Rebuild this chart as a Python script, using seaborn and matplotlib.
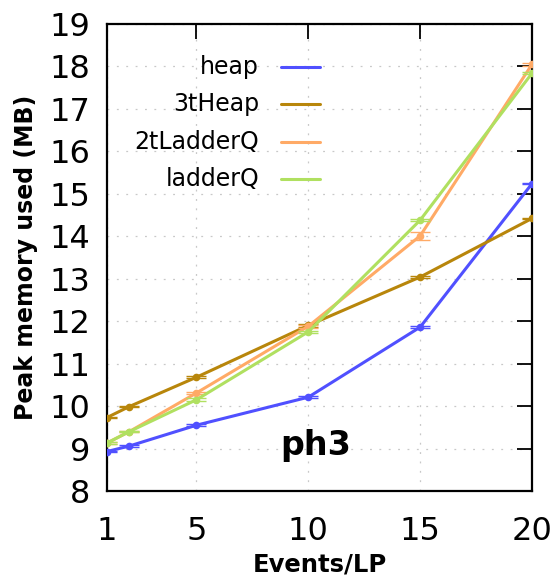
import matplotlib
matplotlib.use("Agg")
import matplotlib.pyplot as plt
from matplotlib.lines import Line2D
import seaborn as sns
import pandas as pd

# ---- data ----
events = [1, 2, 5, 10, 15, 20]
series_names = ["heap", "3tHeap", "2tLadderQ", "ladderQ"]
heap = [8.93, 9.06, 9.55, 10.21, 11.86, 15.24]
three_t_heap = [9.73, 9.99, 10.68, 11.90, 13.04, 14.42]
two_t_ladderq = [9.13, 9.40, 10.31, 11.88, 14.01, 18.05]
ladderq = [9.13, 9.40, 10.15, 11.75, 14.38, 17.84]
heap_err = [0.02, 0.02, 0.02, 0.02, 0.02, 0.02]
three_t_heap_err = [0.02, 0.02, 0.02, 0.03, 0.02, 0.02]
two_t_ladderq_err = [0.02, 0.02, 0.02, 0.03, 0.10, 0.03]
ladderq_err = [0.02, 0.02, 0.03, 0.02, 0.02, 0.02]
x_ticks = [1, 5, 10, 15, 20]
y_ticks = [8, 9, 10, 11, 12, 13, 14, 15, 16, 17, 18, 19]
colors = ["#5050ff", "#b8860b", "#ffaa66", "#b0e060"]

values = [heap, three_t_heap, two_t_ladderq, ladderq]
errors = [heap_err, three_t_heap_err, two_t_ladderq_err, ladderq_err]
rows = []
for name, vals in zip(series_names, values):
    for xv, yv in zip(events, vals):
        rows.append({"Events/LP": xv, "mem": yv, "series": name})
df = pd.DataFrame(rows)

sns.set_style("white")
plt.rcParams["font.family"] = ["DejaVu Sans"]
plt.rcParams["text.color"] = "black"
plt.rcParams["axes.labelcolor"] = "black"
plt.rcParams["xtick.color"] = "black"
plt.rcParams["ytick.color"] = "black"

fig = plt.figure(figsize=(5.6, 5.82), dpi=100)
ax = fig.add_axes([107 / 560, 1 - 491 / 582, (532 - 107) / 560, (491 - 24) / 582])

palette = dict(zip(series_names, colors))
for name, vals, err in zip(series_names, values, errors):
    sub = df[df["series"] == name]
    sns.lineplot(data=sub, x="Events/LP", y="mem", color=palette[name], ax=ax,
                 marker="o", markersize=5.5, markeredgewidth=0, linewidth=2.2,
                 legend=False, zorder=3)
    ax.errorbar(events, vals, yerr=err, fmt="none", ecolor=palette[name],
                elinewidth=1.0, capsize=7, capthick=1.0, zorder=3)

ax.set_xlim(1, 20)
ax.set_ylim(8, 19)
ax.set_xticks(x_ticks)
ax.set_yticks(y_ticks)
ax.tick_params(axis="both", which="major", direction="in", length=11, width=1.3,
               top=True, right=True, labelsize=23, colors="black")
ax.tick_params(axis="y", pad=12)
ax.tick_params(axis="x", pad=18)
ax.grid(True, color="#c8c8c8", linestyle=(0, (1.5, 6)), linewidth=0.9, zorder=0)
for s in ax.spines.values():
    s.set_linewidth(1.6)
    s.set_color("black")

ax.set_xlabel("Events/LP", fontsize=17.5, fontweight="bold", labelpad=4)
ax.set_ylabel("Peak memory used (MB)", fontsize=17, fontweight="bold", labelpad=8)

ax.text(10.34, 8.85, "ph3", fontsize=24, fontweight="bold", ha="center",
        va="baseline")

# gnuplot-style legend: right-aligned text then line sample
leg_rows_y = [66.7, 104, 141.7, 179]
for name, c, ypx in zip(series_names, colors, leg_rows_y):
    yf = 1 - ypx / 582
    fig.text(259 / 560, yf, name, fontsize=17, ha="right", va="center")
    fig.add_artist(Line2D([281 / 560, 320 / 560], [yf, yf], color=c,
                          linewidth=2.2, transform=fig.transFigure))

fig.savefig("out.png", dpi=100)
